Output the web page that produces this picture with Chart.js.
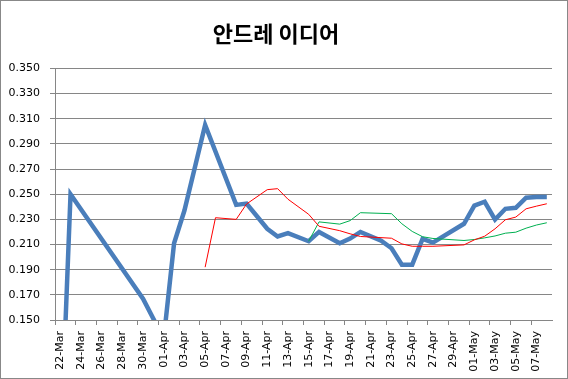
<!DOCTYPE html>
<html>
<head>
<meta charset="utf-8">
<script src="https://cdn.jsdelivr.net/npm/chart.js@4"></script>
<style>
  html, body { margin: 0; padding: 0; background: #fff; }
  #chart { display: block; }
</style>
</head>
<body>
<canvas id="chart" width="568" height="379"></canvas>
<script>
const chartTitle = "안드레 이디어";

// one slot per day, 22-Mar .. 08-May
const days = [
  "22-Mar", "23-Mar", "24-Mar", "25-Mar", "26-Mar", "27-Mar", "28-Mar", "29-Mar", "30-Mar", "31-Mar",
  "01-Apr", "02-Apr", "03-Apr", "04-Apr", "05-Apr", "06-Apr", "07-Apr", "08-Apr", "09-Apr", "10-Apr",
  "11-Apr", "12-Apr", "13-Apr", "14-Apr", "15-Apr", "16-Apr", "17-Apr", "18-Apr", "19-Apr", "20-Apr",
  "21-Apr", "22-Apr", "23-Apr", "24-Apr", "25-Apr", "26-Apr", "27-Apr", "28-Apr", "29-Apr", "30-Apr",
  "01-May", "02-May", "03-May", "04-May", "05-May", "06-May", "07-May", "08-May"
];

// thick blue line (days without a value are null)
const avgDaily = [
  0.040, 0.250, null, null, null, null, null, null, 0.167, null,
  0.135, 0.211, 0.237, null, 0.305, null, null, 0.2415, 0.2425, null,
  0.2225, 0.2164, 0.219, null, 0.2126, 0.220, null, 0.211, 0.2147, 0.220,
  null, 0.213, 0.207, 0.194, 0.194, 0.2145, 0.2115, null, null, 0.2265,
  0.241, 0.244, 0.2298, 0.2384, 0.2392, 0.2472, 0.2477, 0.2477
];

// thin red line
const avgRed = [
  null, null, null, null, null, null, null, null, null, null,
  null, null, null, null, 0.192, 0.2313, null, 0.230, 0.2422, null,
  0.2536, 0.2544, 0.246, null, 0.234, 0.2245, null, 0.221, 0.2185, 0.2164,
  null, null, 0.215, 0.2105, 0.2086, 0.2086, 0.2086, null, null, 0.2097,
  0.2137, 0.2166, 0.2225, 0.2297, 0.2318, 0.2384, 0.2405, 0.2424
];

// thin green line
const avgGreen = [
  null, null, null, null, null, null, null, null, null, null,
  null, null, null, null, null, null, null, null, null, null,
  null, null, null, null, 0.2126, 0.228, null, 0.2262, 0.229, 0.2353,
  null, null, 0.2345, 0.2265, 0.2204, 0.2162, 0.2148, null, null, 0.2132,
  0.214, 0.2153, 0.2168, 0.219, 0.2198, 0.223, 0.2255, 0.2273
];

const yMin = 0.150;
const yMax = 0.350;
const yStep = 0.020;

const gridGray = "#868686";

Chart.defaults.font.family = "'DejaVu Sans', sans-serif";
Chart.defaults.font.size = 11;
Chart.defaults.color = "#000";

// white page and the thin outer frame
const frame = {
  id: "frame",
  beforeDraw(chart) {
    const c = chart.ctx;
    c.save();
    c.fillStyle = "#fff";
    c.fillRect(0, 0, chart.width, chart.height);
    c.restore();
  },
  afterDraw(chart) {
    const c = chart.ctx;
    c.save();
    c.strokeStyle = "#888";
    c.lineWidth = 1;
    c.strokeRect(0.5, 0.5, chart.width - 1, chart.height - 1);
    c.restore();
  }
};

new Chart(document.getElementById("chart"), {
  type: "line",
  data: {
    labels: days,
    datasets: [
      {
        data: avgDaily,
        borderColor: "#4a7ebb",
        borderWidth: 4.5,
        order: 3
      },
      {
        data: avgRed,
        borderColor: "#ff0000",
        borderWidth: 1,
        order: 1
      },
      {
        data: avgGreen,
        borderColor: "#00b050",
        borderWidth: 1,
        order: 2
      }
    ]
  },
  options: {
    responsive: false,
    animation: false,
    spanGaps: true,
    elements: {
      point: { radius: 0 },
      line: { tension: 0 }
    },
    datasets: { line: { clip: 0 } },
    layout: { padding: { left: 0, right: 16, top: 0, bottom: 0 } },
    plugins: {
      legend: { display: false },
      tooltip: { enabled: false },
      title: {
        display: true,
        text: chartTitle,
        color: "#000",
        font: { family: "'Noto Sans CJK KR', sans-serif", size: 22, weight: "bold" },
        padding: { top: 20, bottom: 22 }
      }
    },
    scales: {
      x: {
        offset: true,
        grid: {
          offset: true,
          drawOnChartArea: false,
          drawTicks: true,
          tickLength: 5,
          color: ctx => (ctx.index % 2 === 0 ? gridGray : "rgba(0,0,0,0)")
        },
        border: { display: true, color: gridGray },
        ticks: {
          autoSkip: false,
          maxRotation: 90,
          minRotation: 90,
          padding: 6,
          callback: (v, i) => (i % 2 === 0 ? days[i] : "")
        },
        afterFit: scale => { scale.height = 59; }
      },
      y: {
        min: yMin,
        max: yMax,
        grid: { color: gridGray, tickLength: 5 },
        border: { display: true, color: gridGray },
        ticks: {
          stepSize: yStep,
          padding: 10,
          callback: v => v.toFixed(3)
        },
        afterFit: scale => { scale.width = 55; }
      }
    }
  },
  plugins: [frame]
});
</script>
</body>
</html>
